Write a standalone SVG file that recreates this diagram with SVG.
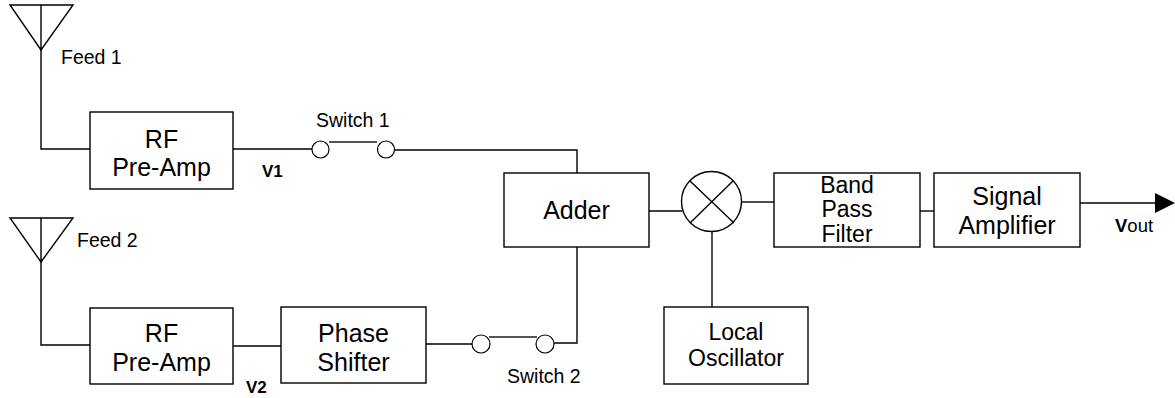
<svg xmlns="http://www.w3.org/2000/svg" width="1175" height="398" viewBox="0 0 1175 398">
<style>
.box{fill:#fff;stroke:#000;stroke-width:1.4}
.w{fill:none;stroke:#000;stroke-width:1.4}
.bar{fill:none;stroke:#555;stroke-width:2}
.sw{fill:#fff;stroke:#000;stroke-width:1.2}
.t{font-family:"Liberation Sans",Arial,sans-serif;font-size:25px;text-anchor:middle;fill:#000}
.ts{font-family:"Liberation Sans",Arial,sans-serif;font-size:23px;text-anchor:middle;fill:#000}
.lb{font-family:"Liberation Sans",Arial,sans-serif;font-size:19.5px;fill:#000}
.b{font-family:"Liberation Sans",Arial,sans-serif;font-size:17px;font-weight:bold;fill:#000}
</style>
<g id="connectors">
<path class="w" d="M41,50 V149 H90"/>
<path class="w" d="M41,262 V345 H90"/>
<path class="w" d="M233,149 H312"/>
<path class="w" d="M394,150 H577 V173"/>
<path class="w" d="M233,346 H281"/>
<path class="w" d="M426,344 H472"/>
<path class="w" d="M554,343 H577 V247"/>
<path class="w" d="M649,211 H682"/>
<path class="w" d="M742,202 H774"/>
<path class="w" d="M712,231 V307"/>
<path class="w" d="M920,211 H934"/>
<path class="w" d="M1080,203 H1158"/>
<polygon points="1155,193 1175,203 1155,213" fill="#000"/>
</g>
<g id="feed1">
<path class="w" d="M10,5 H73 L41,50 Z M41,5 V50"/>
<text class="lb" x="61" y="64">Feed 1</text>
</g>
<g id="feed2">
<path class="w" d="M10,218 H73 L41,262 Z M41,218 V262"/>
<text class="lb" x="77" y="247">Feed 2</text>
</g>
<g id="rf1">
<rect class="box" x="90" y="112" width="143" height="77"/>
<text class="t" x="161.5" y="148">RF</text>
<text class="t" x="161.5" y="176">Pre-Amp</text>
</g>
<text class="b" x="262" y="177" id="v1">V1</text>
<g id="rf2">
<rect class="box" x="90" y="308" width="143" height="76"/>
<text class="t" x="161.5" y="342">RF</text>
<text class="t" x="161.5" y="371">Pre-Amp</text>
</g>
<text class="b" x="246" y="393" id="v2">V2</text>
<g id="switch1">
<path class="bar" d="M329,142 H377"/>
<circle class="sw" cx="320.5" cy="149.5" r="8.5"/>
<circle class="sw" cx="386" cy="149.5" r="8.5"/>
<text class="lb" x="316" y="127">Switch 1</text>
</g>
<g id="phase">
<rect class="box" x="281" y="307" width="145" height="76"/>
<text class="t" x="353.5" y="342">Phase</text>
<text class="t" x="353.5" y="371">Shifter</text>
</g>
<g id="switch2">
<path class="bar" d="M489,337 H537"/>
<circle class="sw" cx="481" cy="344" r="9"/>
<circle class="sw" cx="545" cy="344" r="9"/>
<text class="lb" x="507" y="383">Switch 2</text>
</g>
<g id="adder">
<rect class="box" x="504" y="173" width="145" height="74"/>
<text class="t" x="576.5" y="219">Adder</text>
</g>
<g id="mixer">
<circle class="box" cx="711.5" cy="201.5" r="30"/>
<path class="w" d="M690,181 L734,223 M733,181 L690,223"/>
</g>
<g id="lo">
<rect class="box" x="664" y="307" width="144" height="77"/>
<text class="ts" x="736" y="340">Local</text>
<text class="ts" x="736" y="366">Oscillator</text>
</g>
<g id="bpf">
<rect class="box" x="774" y="173" width="146" height="74"/>
<text class="ts" x="847" y="193">Band</text>
<text class="ts" x="847" y="217">Pass</text>
<text class="ts" x="847" y="242">Filter</text>
</g>
<g id="sa">
<rect class="box" x="934" y="173" width="146" height="74"/>
<text class="t" x="1007" y="205">Signal</text>
<text class="t" x="1007" y="234">Amplifier</text>
</g>
<text id="vout" x="1115" y="232" class="lb" style="font-size:18.5px"><tspan font-weight="bold">V</tspan>out</text>
</svg>
